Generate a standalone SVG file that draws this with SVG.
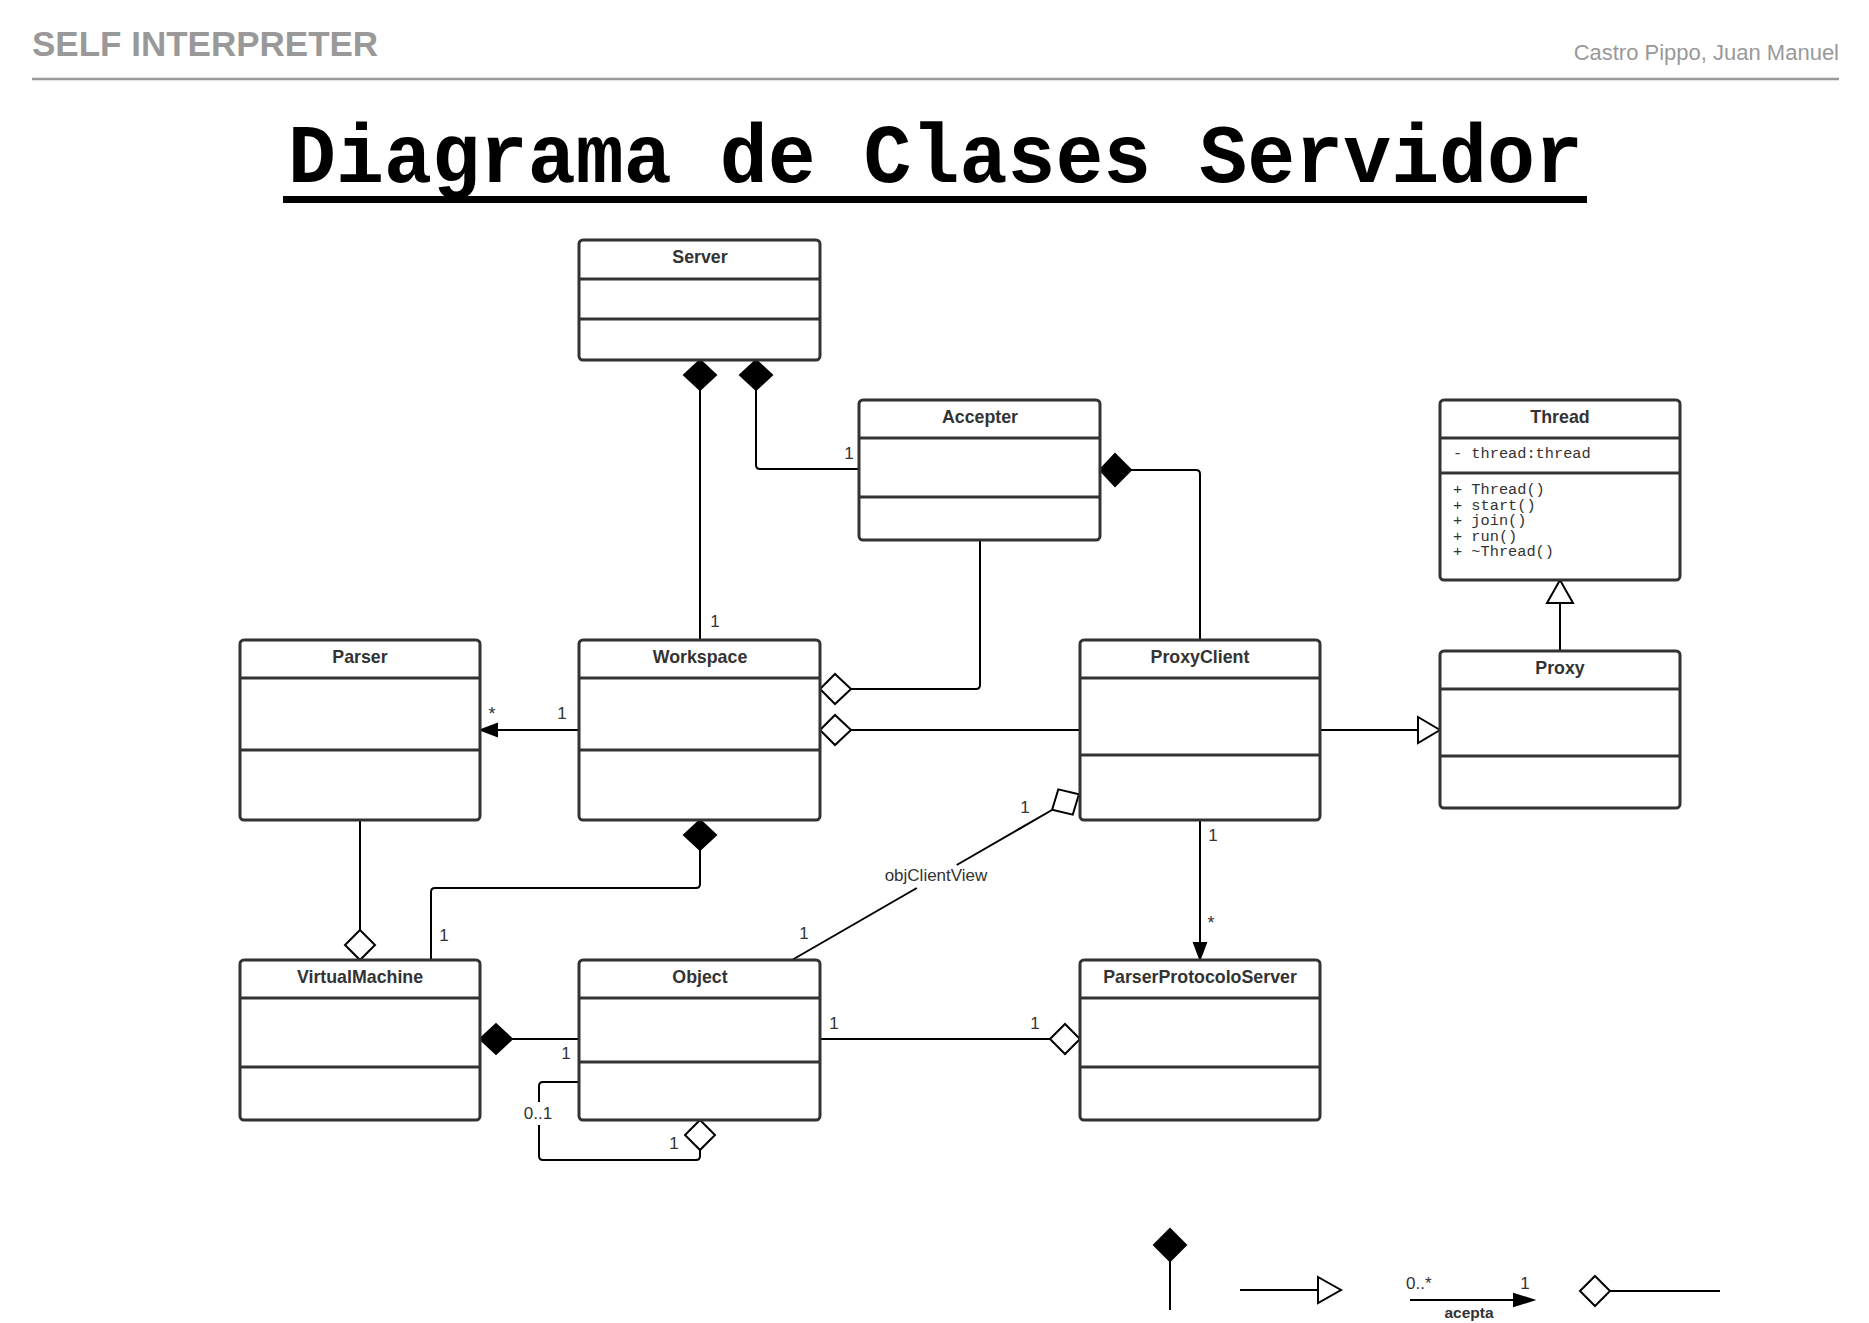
<svg xmlns="http://www.w3.org/2000/svg" width="1869" height="1323" viewBox="0 0 1869 1323">
<style>
.box{fill:#fff;stroke:#333;stroke-width:3}
.dv{stroke:#333;stroke-width:3}
.title{font-family:"Liberation Sans",Arial,sans-serif;font-weight:bold;font-size:17.8px;fill:#333;text-anchor:middle}
.lbl{font-family:"Liberation Sans",Arial,sans-serif;font-size:17px;fill:#333;text-anchor:middle}
.mono{font-family:"Liberation Mono","Courier New",monospace;font-size:15.3px;fill:#333}
.ln{fill:none;stroke:#000;stroke-width:2}
.fd{fill:#000;stroke:#000;stroke-width:2;stroke-linejoin:miter}
.od{fill:#fff;stroke:#000;stroke-width:2;stroke-linejoin:miter}
</style>
<rect width="1869" height="1323" fill="#fff"/>
<g id="header">
<text x="32" y="56" font-family="Liberation Sans,Arial,sans-serif" font-weight="bold" font-size="35" fill="#999">SELF INTERPRETER</text>
<text x="1839" y="60" font-family="Liberation Sans,Arial,sans-serif" font-size="22" fill="#999" text-anchor="end">Castro Pippo, Juan Manuel</text>
<line x1="32" y1="79" x2="1839" y2="79" stroke="#999" stroke-width="2.5"/>
<text x="288" y="182" font-family="Liberation Mono,Courier New,monospace" font-weight="bold" font-size="84" fill="#000" textLength="1295" lengthAdjust="spacingAndGlyphs">Diagrama de Clases Servidor</text>
<rect x="283" y="196" width="1304" height="7" fill="#000"/>
</g>
<g id="connectors">
<path class="ln" d="M700,390 V640"/>
<polygon class="fd" points="700,360 716,375 700,390 684,375"/>
<text class="lbl" x="715" y="627">1</text>
<path class="ln" d="M756,390 V465 Q756,469 760,469 H859"/>
<polygon class="fd" points="756,360 772,375 756,390 740,375"/>
<text class="lbl" x="849" y="459">1</text>
<path class="ln" d="M1131,470 H1196 Q1200,470 1200,474 V640"/>
<polygon class="fd" points="1100,470 1115,454 1131,470 1115,486"/>
<path class="ln" d="M980,540 V685 Q980,689 976,689 H851"/>
<polygon class="od" points="820,689 835,674 851,689 835,704"/>
<path class="ln" d="M851,730 H1080"/>
<polygon class="od" points="820,730 835,715 851,730 835,745"/>
<path class="ln" d="M579,730 H497"/>
<polygon class="fd" points="481,730 497,724 497,736"/>
<text class="lbl" x="492" y="720" style="font-size:18px">*</text>
<text class="lbl" x="562" y="719">1</text>
<path class="ln" d="M700,850 V884 Q700,888 696,888 H435 Q431,888 431,892 V960"/>
<polygon class="fd" points="700,820 716,835 700,850 684,835"/>
<text class="lbl" x="444" y="941">1</text>
<path class="ln" d="M360,820 V930"/>
<polygon class="od" points="360,930 375,945 360,960 345,945"/>
<path class="ln" d="M792,960 L916.8,888 M956.7,865 L1052,810"/>
<polygon class="od" points="1078.9,794.3 1072.8,814.6 1052.1,809.8 1058.3,789.4"/>
<text class="lbl" x="936" y="881">objClientView</text>
<text class="lbl" x="1025" y="813">1</text>
<text class="lbl" x="804" y="939">1</text>
<path class="ln" d="M1200,820 V944"/>
<polygon class="fd" points="1200,959 1194,943 1206,943"/>
<text class="lbl" x="1213" y="841">1</text>
<text class="lbl" x="1211" y="929" style="font-size:18px">*</text>
<path class="ln" d="M1320,730 H1418"/>
<polygon class="od" points="1418,717 1440,730 1418,743"/>
<path class="ln" d="M1560,651 V603"/>
<polygon class="od" points="1547,603 1560,580 1573,603"/>
<path class="ln" d="M512,1039 H580"/>
<polygon class="fd" points="480,1039 496,1024 512,1039 496,1054"/>
<text class="lbl" x="566" y="1059">1</text>
<path class="ln" d="M820,1039 H1050"/>
<polygon class="od" points="1050,1039 1065,1024 1080,1039 1065,1054"/>
<text class="lbl" x="834" y="1029">1</text>
<text class="lbl" x="1035" y="1029">1</text>
<path class="ln" d="M580,1082 H543 Q539,1082 539,1086 V1102 M539,1125 V1156 Q539,1160 543,1160 H696 Q700,1160 700,1156 V1150"/>
<polygon class="od" points="700,1120 715,1135 700,1150 685,1135"/>
<text class="lbl" x="538" y="1119">0..1</text>
<text class="lbl" x="674" y="1149">1</text>
</g>
<g id="Server">
<rect class="box" x="579" y="240" width="241" height="120" rx="4"/>
<line class="dv" x1="579" y1="279" x2="820" y2="279"/>
<line class="dv" x1="579" y1="319" x2="820" y2="319"/>
<text class="title" x="700" y="263">Server</text>
</g>
<g id="Accepter">
<rect class="box" x="859" y="400" width="241" height="140" rx="4"/>
<line class="dv" x1="859" y1="438" x2="1100" y2="438"/>
<line class="dv" x1="859" y1="497" x2="1100" y2="497"/>
<text class="title" x="980" y="423">Accepter</text>
</g>
<g id="Thread">
<rect class="box" x="1440" y="400" width="240" height="180" rx="4"/>
<line class="dv" x1="1440" y1="438" x2="1680" y2="438"/>
<line class="dv" x1="1440" y1="473" x2="1680" y2="473"/>
<text class="title" x="1560" y="423">Thread</text>
<text class="mono" x="1453" y="458">- thread:thread</text>
<text class="mono" x="1453" y="494">+ Thread()</text>
<text class="mono" x="1453" y="510">+ start()</text>
<text class="mono" x="1453" y="525">+ join()</text>
<text class="mono" x="1453" y="541">+ run()</text>
<text class="mono" x="1453" y="556">+ ~Thread()</text>
</g>
<g id="Parser">
<rect class="box" x="240" y="640" width="240" height="180" rx="4"/>
<line class="dv" x1="240" y1="678" x2="480" y2="678"/>
<line class="dv" x1="240" y1="750" x2="480" y2="750"/>
<text class="title" x="360" y="663">Parser</text>
</g>
<g id="Workspace">
<rect class="box" x="579" y="640" width="241" height="180" rx="4"/>
<line class="dv" x1="579" y1="678" x2="820" y2="678"/>
<line class="dv" x1="579" y1="750" x2="820" y2="750"/>
<text class="title" x="700" y="663">Workspace</text>
</g>
<g id="ProxyClient">
<rect class="box" x="1080" y="640" width="240" height="180" rx="4"/>
<line class="dv" x1="1080" y1="678" x2="1320" y2="678"/>
<line class="dv" x1="1080" y1="755" x2="1320" y2="755"/>
<text class="title" x="1200" y="663">ProxyClient</text>
</g>
<g id="Proxy">
<rect class="box" x="1440" y="651" width="240" height="157" rx="4"/>
<line class="dv" x1="1440" y1="689" x2="1680" y2="689"/>
<line class="dv" x1="1440" y1="756" x2="1680" y2="756"/>
<text class="title" x="1560" y="674">Proxy</text>
</g>
<g id="VirtualMachine">
<rect class="box" x="240" y="960" width="240" height="160" rx="4"/>
<line class="dv" x1="240" y1="998" x2="480" y2="998"/>
<line class="dv" x1="240" y1="1067" x2="480" y2="1067"/>
<text class="title" x="360" y="983">VirtualMachine</text>
</g>
<g id="Object">
<rect class="box" x="579" y="960" width="241" height="160" rx="4"/>
<line class="dv" x1="579" y1="998" x2="820" y2="998"/>
<line class="dv" x1="579" y1="1062" x2="820" y2="1062"/>
<text class="title" x="700" y="983">Object</text>
</g>
<g id="ParserProtocoloServer">
<rect class="box" x="1080" y="960" width="240" height="160" rx="4"/>
<line class="dv" x1="1080" y1="998" x2="1320" y2="998"/>
<line class="dv" x1="1080" y1="1067" x2="1320" y2="1067"/>
<text class="title" x="1200" y="983">ParserProtocoloServer</text>
</g>
<g id="legend">
<path class="ln" d="M1170,1261 V1310"/>
<polygon class="fd" points="1170,1229 1186,1245 1170,1261 1154,1245"/>
<path class="ln" d="M1240,1290 H1318"/>
<polygon class="od" points="1318,1277 1341,1290 1318,1303"/>
<text class="lbl" x="1406" y="1289" style="text-anchor:start">0..*</text>
<text class="lbl" x="1525" y="1289">1</text>
<path class="ln" d="M1410,1300 H1515"/>
<polygon class="fd" points="1533,1300 1514,1294 1514,1306"/>
<text x="1469" y="1318" font-family="Liberation Sans,Arial,sans-serif" font-weight="bold" font-size="15.5" fill="#333" text-anchor="middle">acepta</text>
<path class="ln" d="M1610,1291 H1720"/>
<polygon class="od" points="1580,1291 1595,1276 1610,1291 1595,1306"/>
</g>
</svg>
